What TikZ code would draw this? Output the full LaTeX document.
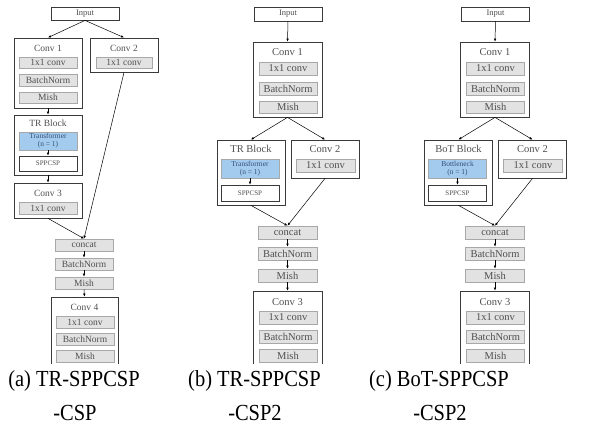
\documentclass[tikz,border=0pt]{standalone}
\usepackage{fontspec}
\setmainfont{Liberation Serif}
\usetikzlibrary{arrows.meta}

\definecolor{txt}{HTML}{505050}
\definecolor{edge}{HTML}{3A3A3A}
\definecolor{cellfill}{HTML}{E2E2E2}
\definecolor{celledge}{HTML}{A8A8A8}
\definecolor{bluefill}{HTML}{A3CBEE}
\definecolor{bluetxt}{HTML}{34507A}

% rectangle node given by its corners: style, name, x1, y1, x2, y2, text
\newcommand\blk[7]{\node[#1, minimum width={(#5-#3)*1pt}, minimum height={(#6-#4)*1pt}] (#2) at ({(#3+#5)/2},{(#4+#6)/2}) {#7};}
% narrowed caption text
\newcommand\captxt[1]{\scalebox{0.89}[1]{#1}}

\tikzset{
  outer/.style={draw=edge, line width=0.8pt, fill=white, inner sep=0pt},
  cell/.style={draw=celledge, line width=0.7pt, fill=cellfill, inner sep=0pt, text=txt, font=\fontsize{9.5}{10}\selectfont},
  cellb/.style={cell, font=\fontsize{10.5}{11}\selectfont},
  bluecell/.style={draw=celledge, line width=0.7pt, fill=bluefill, inner sep=0pt, text=bluetxt, align=center, font=\fontsize{7.5}{8}\selectfont},
  sppbox/.style={draw=edge, line width=0.7pt, fill=white, inner sep=0pt, text=txt, font=\fontsize{7}{7.5}\selectfont},
  inbox/.style={draw=edge, line width=0.8pt, fill=white, inner sep=0pt, text=txt, font=\fontsize{8.5}{9}\selectfont},
  title/.style={text=txt, inner sep=0pt, font=\fontsize{9.5}{10}\selectfont},
  titleb/.style={title, font=\fontsize{10.5}{11}\selectfont},
  flow/.style={-{Latex[length=3pt,width=2.6pt]}, line width=0.5pt, black},
  caption/.style={inner sep=0pt, anchor=base, font=\fontsize{23}{23}\selectfont}
}

% two-branch layout used by panels (b) and (c)
\newcommand\twobranch[3]{%
  \blk{inbox}{#3in}{254}{7}{322}{21}{Input}
  \blk{outer}{#3cA}{253}{42}{322}{117}{}
  \node[titleb] (#3tA) at (287.5,52) {Conv 1};
  \blk{cellb}{#3cAa}{259}{62}{317}{75}{1x1 conv}
  \blk{cellb}{#3cAb}{259}{82}{317}{95}{BatchNorm}
  \blk{cellb}{#3cAc}{259}{101}{317}{113}{Mish}
  \blk{outer}{#3blk}{217}{140}{285}{205}{}
  \node[titleb] (#3tblk) at (251,149) {#1};
  \blk{bluecell}{#3blu}{221}{159}{279}{178}{#2\\(n = 1)}
  \blk{sppbox}{#3spp}{221}{185}{279}{201}{SPPCSP}
  \blk{outer}{#3cB}{291}{140}{359}{178}{}
  \node[titleb] (#3tB) at (325,149) {Conv 2};
  \blk{cellb}{#3cBa}{296}{159}{355}{172}{1x1 conv}
  \blk{cellb}{#3cat}{258}{226}{317}{239}{concat}
  \blk{cellb}{#3bn}{258}{247}{317}{260}{BatchNorm}
  \blk{cellb}{#3mi}{258}{269}{317}{282}{Mish}
  \blk{outer}{#3cC}{253}{291}{322}{380}{}
  \node[titleb] (#3tC) at (287.5,302) {Conv 3};
  \blk{cellb}{#3cCa}{259}{311}{317}{324}{1x1 conv}
  \blk{cellb}{#3cCb}{259}{330}{317}{343}{BatchNorm}
  \blk{cellb}{#3cCc}{259}{349}{317}{362}{Mish}
  \draw[flow] (#3in.south) -- (#3cA.north);
  \draw[flow] (#3cA.south) -- (#3blk.north);
  \draw[flow] (#3cA.south) -- (#3cB.north);
  \draw[flow] (#3blu.south) -- (#3spp.north);
  \draw[flow] (#3blk.south) -- (#3cat.north);
  \draw[flow] (#3cB.south) -- (#3cat.north);
  \draw[flow] (#3cat.south) -- (#3bn.north);
  \draw[flow] (#3bn.south) -- (#3mi.north);
  \draw[flow] (#3mi.south) -- (#3cC.north);
}

\begin{document}
\begin{tikzpicture}[x=1pt,y=-1pt]
\useasboundingbox (0,0) rectangle (590,438);
\fill[white] (0,0) rectangle (590,438);

\begin{scope}
\clip (0,0) rectangle (590,364);

% panel (a): CSP layout
\blk{inbox}{ain}{51}{7}{119}{20}{Input}
\blk{outer}{acA}{14}{38}{82}{108}{}
\node[title] (atA) at (48,48) {Conv 1};
\blk{cell}{acAa}{19}{57}{77}{68}{1x1 conv}
\blk{cell}{acAb}{19}{74}{77}{86}{BatchNorm}
\blk{cell}{acAc}{19}{92}{77}{103}{Mish}
\blk{outer}{acB}{90}{38}{158}{72}{}
\node[title] (atB) at (124,48) {Conv 2};
\blk{cell}{acBa}{96}{57}{152}{68}{1x1 conv}
\blk{outer}{ablk}{14}{115}{82}{175}{}
\node[title] (atblk) at (48,123) {TR Block};
\blk{bluecell}{ablu}{19}{132}{77}{150}{Transformer\\(n = 1)}
\blk{sppbox}{aspp}{19}{156}{77}{171}{SPPCSP}
\blk{outer}{acC}{14}{183}{82}{218}{}
\node[title] (atC) at (48,193) {Conv 3};
\blk{cell}{acCa}{19}{202}{77}{214}{1x1 conv}
\blk{cell}{acat}{55}{239}{113}{251}{concat}
\blk{cell}{abn}{55}{258}{113}{270}{BatchNorm}
\blk{cell}{ami}{55}{277}{113}{289}{Mish}
\blk{outer}{acD}{51}{297}{118}{380}{}
\node[title] (atD) at (84.5,307) {Conv 4};
\blk{cell}{acDa}{56}{316}{114}{328}{1x1 conv}
\blk{cell}{acDb}{56}{333}{114}{345}{BatchNorm}
\blk{cell}{acDc}{56}{350}{114}{362}{Mish}
\draw[flow] (ain.south) -- (acA.north);
\draw[flow] (ain.south) -- (acB.north);
\draw[flow] (acA.south) -- (ablk.north);
\draw[flow] (ablu.south) -- (aspp.north);
\draw[flow] (ablk.south) -- (acC.north);
\draw[flow] (acC.south) -- (acat.north);
\draw[flow] (acB.south) -- (acat.north);
\draw[flow] (acat.south) -- (abn.north);
\draw[flow] (abn.south) -- (ami.north);
\draw[flow] (ami.south) -- (acD.north);

% panel (b)
\twobranch{TR Block}{Transformer}{b}

% panel (c)
\begin{scope}[xshift=207.5pt]
\twobranch{BoT Block}{Bottleneck}{c}
\end{scope}
\end{scope}

% captions
\node[caption] (capa1) at (74,387) {\captxt{(a) TR-SPPCSP}};
\node[caption] (capa2) at (75,421) {\captxt{-CSP}};
\node[caption] (capb1) at (254.5,387) {\captxt{(b) TR-SPPCSP}};
\node[caption] (capb2) at (255,421) {\captxt{-CSP2}};
\node[caption] (capc1) at (439,387) {\captxt{(c) BoT-SPPCSP}};
\node[caption] (capc2) at (440,421) {\captxt{-CSP2}};
\end{tikzpicture}
\end{document}
